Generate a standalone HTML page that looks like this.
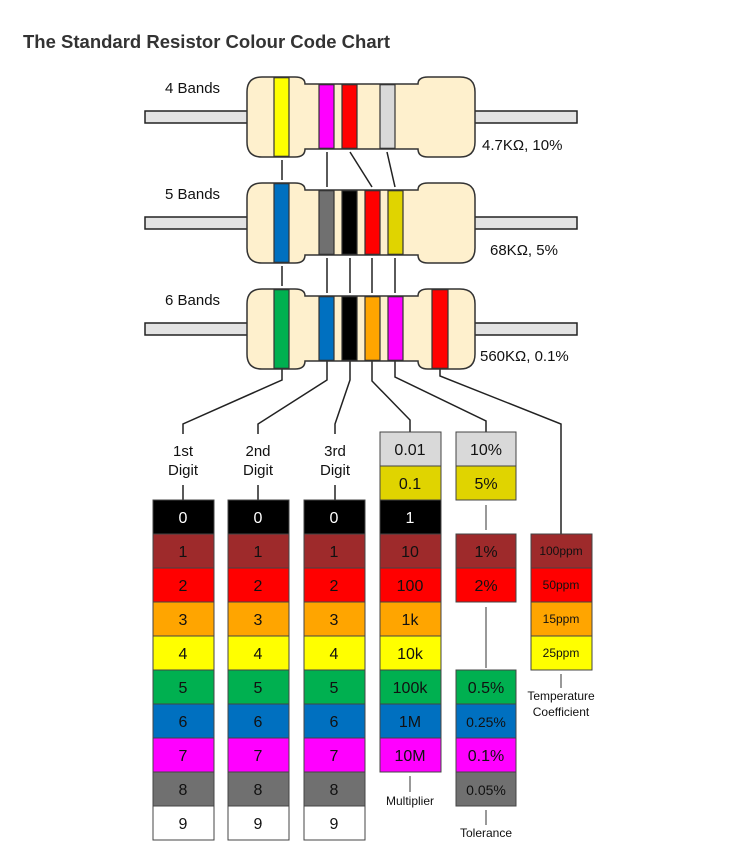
<!DOCTYPE html>
<html><head><meta charset="utf-8"><style>
html,body{margin:0;padding:0;background:#fff;}
svg{display:block;font-family:"Liberation Sans",Arial,sans-serif;}
</style></head><body>
<svg width="744" height="859" viewBox="0 0 744 859" xmlns="http://www.w3.org/2000/svg">
<text x="23" y="48" font-size="18" font-weight="bold" fill="#333" textLength="367" lengthAdjust="spacingAndGlyphs">The Standard Resistor Colour Code Chart</text>

<defs>
<path id="body" d="M262,77 H295 Q305,77 305,84 H418 Q418,77 428,77 H460 Q475,77 475,92 V142 Q475,157 460,157 H428 Q418,157 418,149 H305 Q305,157 295,157 H262 Q247,157 247,142 V92 Q247,77 262,77 Z"/>
<g id="lead">
<rect x="145" y="111" width="103" height="12" fill="#e3e3e3" stroke="#222" stroke-width="1.5"/>
<rect x="474" y="111" width="103" height="12" fill="#e3e3e3" stroke="#222" stroke-width="1.5"/>
</g>
</defs>

<g stroke="#222" stroke-width="1.5" fill="none">
<!-- connectors top-mid -->
<line x1="282" y1="160" x2="282" y2="180"/>
<line x1="327" y1="152" x2="327" y2="187"/>
<line x1="350" y1="152" x2="372" y2="187"/>
<line x1="387" y1="152" x2="395" y2="187"/>
<!-- mid-bottom -->
<line x1="282" y1="266" x2="282" y2="286"/>
<line x1="327" y1="258" x2="327" y2="293"/>
<line x1="350" y1="258" x2="350" y2="293"/>
<line x1="372" y1="258" x2="372" y2="293"/>
<line x1="395" y1="258" x2="395" y2="293"/>
<!-- bottom to tables -->
<polyline points="282,369 282,380 183,424 183,434"/>
<polyline points="327,361 327,380 258,424 258,434"/>
<polyline points="350,361 350,380 335,424 335,434"/>
<polyline points="372,361 372,381 410,420 410,433"/>
<polyline points="395,361 395,377 486,421 486,433"/>
<polyline points="440,369 440,376 561,424 561,534"/>
<line x1="183" y1="485" x2="183" y2="500"/>
<line x1="258" y1="485" x2="258" y2="500"/>
<line x1="335" y1="485" x2="335" y2="500"/>
</g>
<g stroke="#777" stroke-width="1.5">
<line x1="486" y1="505" x2="486" y2="530"/>
<line x1="486" y1="607" x2="486" y2="668"/>
<line x1="410" y1="776" x2="410" y2="792"/>
<line x1="486" y1="810" x2="486" y2="825"/>
<line x1="561" y1="674" x2="561" y2="688"/>
</g>

<!-- resistors -->
<g>
<use href="#lead"/>
<use href="#body" fill="#fef0cd" stroke="#333" stroke-width="1.5"/>
<g stroke="#333" stroke-width="1.2">
<rect x="274" y="77.7" width="15" height="78.6" fill="#ffff00"/>
<rect x="319" y="84.7" width="15" height="63.6" fill="#ff00ff"/>
<rect x="342" y="84.7" width="15" height="63.6" fill="#ff0000"/>
<rect x="380" y="84.7" width="15" height="63.6" fill="#d9d9d9"/>
</g>
</g>
<g transform="translate(0,106)">
<use href="#lead"/>
<use href="#body" fill="#fef0cd" stroke="#333" stroke-width="1.5"/>
<g stroke="#333" stroke-width="1.2">
<rect x="274" y="77.7" width="15" height="78.6" fill="#0070c0"/>
<rect x="319" y="84.7" width="15" height="63.6" fill="#707070"/>
<rect x="342" y="84.7" width="15" height="63.6" fill="#000"/>
<rect x="365" y="84.7" width="15" height="63.6" fill="#ff0000"/>
<rect x="388" y="84.7" width="15" height="63.6" fill="#e0d400"/>
</g>
</g>
<g transform="translate(0,212)">
<use href="#lead"/>
<use href="#body" fill="#fef0cd" stroke="#333" stroke-width="1.5"/>
<g stroke="#333" stroke-width="1.2">
<rect x="274" y="77.7" width="15" height="78.6" fill="#00b050"/>
<rect x="319" y="84.7" width="15" height="63.6" fill="#0070c0"/>
<rect x="342" y="84.7" width="15" height="63.6" fill="#000"/>
<rect x="365" y="84.7" width="15" height="63.6" fill="#ffa500"/>
<rect x="388" y="84.7" width="15" height="63.6" fill="#ff00ff"/>
<rect x="432" y="77.7" width="16" height="78.6" fill="#ff0000"/>
</g>
</g>

<g font-size="15" fill="#111">
<text x="165" y="93">4 Bands</text>
<text x="165" y="199">5 Bands</text>
<text x="165" y="305">6 Bands</text>
<text x="482" y="150">4.7KΩ, 10%</text>
<text x="490" y="255">68KΩ, 5%</text>
<text x="480" y="361">560KΩ, 0.1%</text>
</g>
<g font-size="15" fill="#111" text-anchor="middle">
<text x="183" y="456">1st</text><text x="183" y="475">Digit</text>
<text x="258" y="456">2nd</text><text x="258" y="475">Digit</text>
<text x="335" y="456">3rd</text><text x="335" y="475">Digit</text>
</g>

<!-- digit columns -->
<g stroke="#444" stroke-width="1">
<g id="dcol">
<rect x="153" y="500" width="61" height="34" fill="#000"/>
<rect x="153" y="534" width="61" height="34" fill="#9e2a2b"/>
<rect x="153" y="568" width="61" height="34" fill="#ff0000"/>
<rect x="153" y="602" width="61" height="34" fill="#ffa500"/>
<rect x="153" y="636" width="61" height="34" fill="#ffff00"/>
<rect x="153" y="670" width="61" height="34" fill="#00b050"/>
<rect x="153" y="704" width="61" height="34" fill="#0070c0"/>
<rect x="153" y="738" width="61" height="34" fill="#ff00ff"/>
<rect x="153" y="772" width="61" height="34" fill="#707070"/>
<rect x="153" y="806" width="61" height="34" fill="#fff"/>
</g>
<use href="#dcol" x="75"/>
<use href="#dcol" x="151"/>
<!-- multiplier -->
<rect x="380" y="432" width="61" height="34" fill="#d9d9d9"/>
<rect x="380" y="466" width="61" height="34" fill="#e0d400"/>
<rect x="380" y="500" width="61" height="34" fill="#000"/>
<rect x="380" y="534" width="61" height="34" fill="#9e2a2b"/>
<rect x="380" y="568" width="61" height="34" fill="#ff0000"/>
<rect x="380" y="602" width="61" height="34" fill="#ffa500"/>
<rect x="380" y="636" width="61" height="34" fill="#ffff00"/>
<rect x="380" y="670" width="61" height="34" fill="#00b050"/>
<rect x="380" y="704" width="61" height="34" fill="#0070c0"/>
<rect x="380" y="738" width="61" height="34" fill="#ff00ff"/>
<!-- tolerance -->
<rect x="456" y="432" width="60" height="34" fill="#d9d9d9"/>
<rect x="456" y="466" width="60" height="34" fill="#e0d400"/>
<rect x="456" y="534" width="60" height="34" fill="#9e2a2b"/>
<rect x="456" y="568" width="60" height="34" fill="#ff0000"/>
<rect x="456" y="670" width="60" height="34" fill="#00b050"/>
<rect x="456" y="704" width="60" height="34" fill="#0070c0"/>
<rect x="456" y="738" width="60" height="34" fill="#ff00ff"/>
<rect x="456" y="772" width="60" height="34" fill="#707070"/>
<!-- temp -->
<rect x="531" y="534" width="61" height="34" fill="#9e2a2b"/>
<rect x="531" y="568" width="61" height="34" fill="#ff0000"/>
<rect x="531" y="602" width="61" height="34" fill="#ffa500"/>
<rect x="531" y="636" width="61" height="34" fill="#ffff00"/>
</g>

<g font-size="16" text-anchor="middle" fill="#111">
<g id="dtext">
<text x="183" y="523" fill="#fff">0</text>
<text x="183" y="557">1</text>
<text x="183" y="591">2</text>
<text x="183" y="625">3</text>
<text x="183" y="659">4</text>
<text x="183" y="693">5</text>
<text x="183" y="727">6</text>
<text x="183" y="761">7</text>
<text x="183" y="795">8</text>
<text x="183" y="829">9</text>
</g>
<use href="#dtext" x="75"/>
<use href="#dtext" x="151"/>
<text x="410" y="455">0.01</text>
<text x="410" y="489">0.1</text>
<text x="410" y="523" fill="#fff">1</text>
<text x="410" y="557">10</text>
<text x="410" y="591">100</text>
<text x="410" y="625">1k</text>
<text x="410" y="659">10k</text>
<text x="410" y="693">100k</text>
<text x="410" y="727">1M</text>
<text x="410" y="761">10M</text>
<text x="486" y="455">10%</text>
<text x="486" y="489">5%</text>
<text x="486" y="557">1%</text>
<text x="486" y="591">2%</text>
<text x="486" y="693">0.5%</text>
<text x="486" y="727" font-size="14">0.25%</text>
<text x="486" y="761">0.1%</text>
<text x="486" y="795" font-size="14">0.05%</text>
</g>
<g font-size="12" text-anchor="middle" fill="#111">
<text x="561" y="555">100ppm</text>
<text x="561" y="589">50ppm</text>
<text x="561" y="623">15ppm</text>
<text x="561" y="657">25ppm</text>
<text x="561" y="700">Temperature</text>
<text x="561" y="716">Coefficient</text>
<text x="410" y="805">Multiplier</text>
<text x="486" y="837">Tolerance</text>
</g>
</svg>
</body></html>
